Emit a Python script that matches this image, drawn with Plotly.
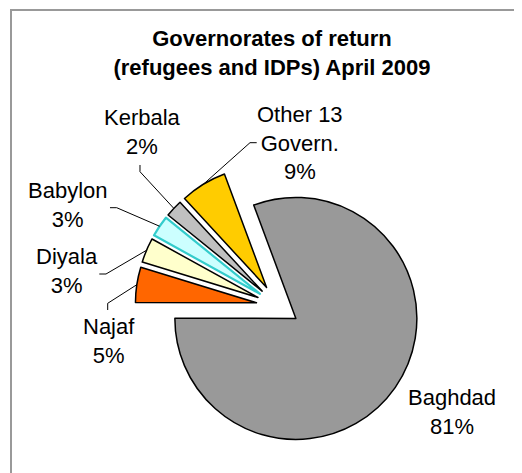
import numpy as np
import plotly.graph_objects as go

W, H = 522, 473
OFF = 8  # page body margin in the browser

# slice data (shares) and printed labels
governorates = ["Baghdad", "Najaf", "Diyala", "Babylon", "Kerbala", "Other 13<br>Govern."]
shares = [80.7, 4.7, 3.3, 2.8, 2.3, 6.2]
pct_labels = ["81%", "5%", "3%", "3%", "2%", "9%"]
fill_colors = ["#999999", "#FF6600", "#FFFFCC", "#CCFFFF", "#C0C0C0", "#FFCC00"]
edge_colors = ["#000000", "#000000", "#000000", "#33CCCC", "#000000", "#000000"]
edge_widths = [1.5, 1.5, 1.5, 2.2, 1.5, 1.5]

# layout of the pie in pixels
cx, cy, r = 278, 306, 121
pull = 0.18
rotation = -20.4

# label centres and leader line elbows (pixels from top-left)
label_xy = [(452, 412), (109, 341), (67, 271), (68, 205), (142, 132), (300, 143)]
leader_stub = [None, [(107.7, 310), (107.7, 303.3)], [(99.3, 274), (106, 274)],
               [(110, 207.7), (116.7, 207.7)], [(140, 165), (140, 171.7)],
               [(256.7, 142.7), (250, 142.7)]]


def px(x, y):
    return (x - OFF) / W, 1 - (y - OFF) / H


R = r * (1 + pull)
x0, y0 = px(cx - R, cy + R)
x1, y1 = px(cx + R, cy - R)
fig = go.Figure(go.Pie(
    labels=governorates, values=shares, sort=False, direction="clockwise",
    rotation=rotation, pull=pull, textinfo="none", hoverinfo="label+percent",
    marker=dict(colors=fill_colors, line=dict(color=edge_colors, width=edge_widths)),
    domain=dict(x=[x0, x1], y=[y0, y1]),
    showlegend=False,
))

font = dict(family="Liberation Sans, Arial, sans-serif", size=22, color="#000000")

# leader lines: from the stub to the middle of each slice's outer edge
total = sum(shares)
start = rotation
shapes = []
for i, v in enumerate(shares):
    mid = np.radians(start + 360 * v / total / 2)
    start += 360 * v / total
    if leader_stub[i] is None:
        continue
    ex, ey = cx + R * np.sin(mid), cy - R * np.cos(mid)
    pts = leader_stub[i] + [(ex, ey)]
    path = "M " + " L ".join(f"{px(x, y)[0]:.5f},{px(x, y)[1]:.5f}" for x, y in pts)
    shapes.append(dict(type="path", xref="paper", yref="paper", path=path,
                       line=dict(color="#000000", width=1)))

# chart border
bx, by = px(11, 10)
shapes.append(dict(type="rect", xref="paper", yref="paper",
                   x0=bx, x1=1.2, y0=-0.2, y1=by,
                   line=dict(color="#999999", width=2), layer="below"))

annotations = []
for name, pct, (x, y) in zip(governorates, pct_labels, label_xy):
    ax_, ay_ = px(x, y)
    annotations.append(dict(text=f"{name}<br>{pct}", x=ax_, y=ay_, xref="paper", yref="paper",
                            xanchor="center", yanchor="middle", showarrow=False, font=font))

tx, ty = px(272, 46)
fig.update_layout(
    width=W, height=H, margin=dict(l=0, r=0, t=0, b=0),
    paper_bgcolor="#FFFFFF", plot_bgcolor="#FFFFFF",
    title=dict(text="<b>Governorates of return<br>(refugees and IDPs) April 2009</b>",
               x=tx, xanchor="center", y=ty, yanchor="middle",
               font=dict(family="Liberation Sans, Arial, sans-serif", size=22, color="#000000")),
    shapes=shapes, annotations=annotations,
)

fig.write_html("out.html")
